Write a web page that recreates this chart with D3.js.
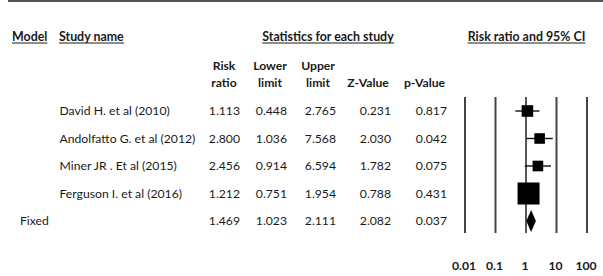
<!DOCTYPE html>
<html><head><meta charset="utf-8">
<script src="https://cdn.jsdelivr.net/npm/d3@7"></script>
<style>
html,body{margin:0;padding:0;background:#fff;}
svg text{font-family:Lato,"Open Sans",sans-serif;fill:#1a1a1a;}
</style></head>
<body><svg id="c" width="603" height="276"></svg>
<script>
const studies = ["David H. et al (2010)", "Andolfatto G. et al (2012)", "Miner JR . Et al (2015)", "Ferguson I. et al (2016)"];
const riskRatio = [1.113, 2.800, 2.456, 1.212];
const lowerLimit = [0.448, 1.036, 0.914, 0.751];
const upperLimit = [2.765, 7.568, 6.594, 1.954];
const zValue = [0.231, 2.030, 1.782, 0.788];
const pValue = [0.817, 0.042, 0.075, 0.431];
const pooled = {model: "Fixed", rr: 1.469, lower: 1.023, upper: 2.111, z: 2.082, p: 0.037};
const axisTicks = [0.01, 0.1, 1, 10, 100];
const axisTickLabels = ["0.01", "0.1", "1", "10", "100"];

const svg = d3.select("#c");
const FS = 12.2;
const HFS = 12.4;

// top rule
svg.append("line").attr("x1", 8).attr("x2", 603).attr("y1", 1).attr("y2", 1)
  .attr("stroke", "#555").attr("stroke-width", 2);

// rows
const rowKeys = studies.concat([pooled.model]);
const y = d3.scalePoint().domain(rowKeys).range([111, 221]);

const x = d3.scaleLog().domain([0.01, 100]).range([465, 587]);

// section headers (bold, underlined)
function header(txt, x0, anchor) {
  const t = svg.append("text").attr("x", x0).attr("y", 40.5)
    .attr("font-size", HFS).attr("font-weight", "bold").attr("text-anchor", anchor || "start").text(txt);
  const b = t.node().getBBox();
  svg.append("line").attr("x1", b.x).attr("x2", b.x + b.width).attr("y1", 43).attr("y2", 43)
    .attr("stroke", "#1a1a1a").attr("stroke-width", 1);
}
header("Model", 12);
header("Study name", 59);
header("Statistics for each study", 328, "middle");
header("Risk ratio and 95% CI", 526.5, "middle");

// column headers
const colRight = [240, 287, 336, 391, 447];
const colHead = [["Risk", "ratio", 224], ["Lower", "limit", 270], ["Upper", "limit", 318], ["", "Z-Value", 368], ["", "p-Value", 424.5]];
colHead.forEach(h => {
  svg.append("text").attr("x", h[2]).attr("y", 70).attr("font-size", FS).attr("font-weight", "bold")
    .attr("text-anchor", "middle").text(h[0]);
  svg.append("text").attr("x", h[2]).attr("y", 86.5).attr("font-size", FS).attr("font-weight", "bold")
    .attr("text-anchor", "middle").text(h[1]);
});

const fmt = d3.format(".3f");
// study rows
studies.forEach((s, i) => {
  const yy = y(s) + 4.2;
  svg.append("text").attr("x", 59.5).attr("y", yy).attr("font-size", FS).text(s);
  [riskRatio[i], lowerLimit[i], upperLimit[i], zValue[i], pValue[i]].forEach((v, j) => {
    svg.append("text").attr("x", colRight[j]).attr("y", yy).attr("font-size", FS)
      .attr("text-anchor", "end").text(fmt(v));
  });
});
{
  const yy = y(pooled.model) + 4.2;
  svg.append("text").attr("x", 20).attr("y", yy).attr("font-size", FS).text(pooled.model);
  [pooled.rr, pooled.lower, pooled.upper, pooled.z, pooled.p].forEach((v, j) => {
    svg.append("text").attr("x", colRight[j]).attr("y", yy).attr("font-size", FS)
      .attr("text-anchor", "end").text(fmt(v));
  });
}

// forest plot frame lines
axisTicks.forEach(t => {
  svg.append("line").attr("x1", x(t)).attr("x2", x(t)).attr("y1", 97).attr("y2", 233)
    .attr("stroke", t === 1 ? "#111" : "#444").attr("stroke-width", t === 1 ? 1.4 : 2);
});

// CI lines and squares (area proportional to inverse-variance weight)
const weights = studies.map((s, i) => {
  const se = (Math.log(upperLimit[i]) - Math.log(lowerLimit[i])) / 3.92;
  return 1 / (se * se);
});
const size = d3.scaleSqrt().domain([0, d3.max(weights)]).range([0, 22]);
studies.forEach((s, i) => {
  const yy = y(s);
  svg.append("line").attr("x1", x(lowerLimit[i])).attr("x2", x(upperLimit[i]))
    .attr("y1", yy).attr("y2", yy).attr("stroke", "#111").attr("stroke-width", 1.4);
  const w = size(weights[i]);
  svg.append("rect").attr("x", x(riskRatio[i]) - w / 2).attr("y", yy - w / 2)
    .attr("width", w).attr("height", w).attr("fill", "#000");
});
{
  const yy = y(pooled.model);
  const pts = [[x(pooled.lower), yy], [x(pooled.rr), yy - 11], [x(pooled.upper), yy], [x(pooled.rr), yy + 11]];
  svg.append("path").attr("d", "M" + pts.map(p => p.join(",")).join("L") + "Z").attr("fill", "#000");
}

// axis labels
axisTicks.forEach((t, i) => {
  svg.append("text").attr("x", x(t) - 1).attr("y", 270).attr("font-size", FS).attr("font-weight", "bold")
    .attr("text-anchor", "middle").text(axisTickLabels[i]);
});
</script></body></html>
